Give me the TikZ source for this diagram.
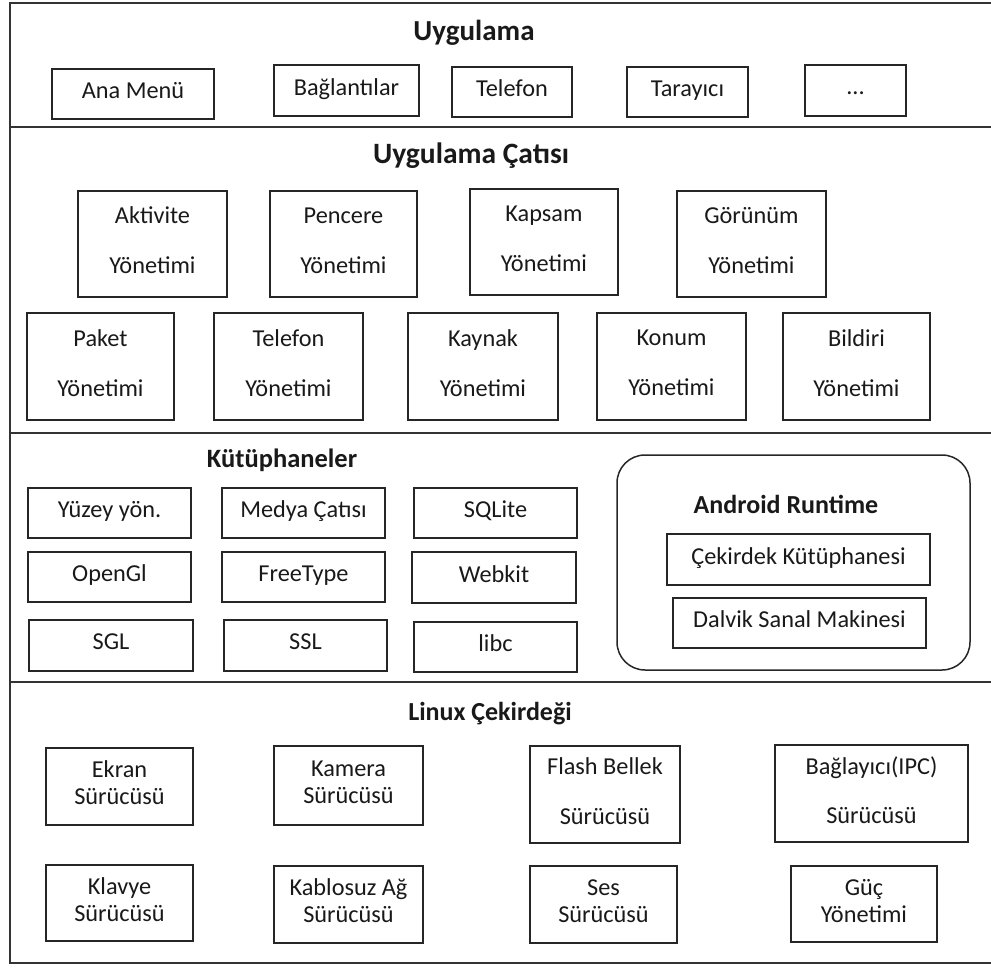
\documentclass[tikz,border=0pt]{standalone}
\usepackage{fontspec}
\setmainfont{Carlito}
\newcommand{\sst}{\rule[-7pt]{0pt}{22pt}}
\newcommand{\bx}[7]{\node[box, minimum width={(#4)-(#2)}, minimum height={(#5)-(#3)}, font=\fontsize{24.3}{#6}\selectfont] (#1) at ({((#2)+(#4))/2},{((#3)+(#5))/2}) {\sst#7\sst};}
\begin{document}
\begin{tikzpicture}[x=1pt,y=-1pt,
  box/.style={draw=black!85, line width=1.5pt, inner sep=0pt, align=center, text=black!90},
  ttl/.style={anchor=base, inner sep=0pt, text=black!90},
  sep/.style={draw=black!80, line width=1.6pt}]
\useasboundingbox (0,0) rectangle (991,967);
% frame and layer separators
\draw[sep] (991,3) -- (10,3) -- (10,963) -- (991,963);
\draw[sep] (10,127) -- (991,127);
\draw[sep] (10,433) -- (991,433);
\draw[sep] (10,682) -- (991,682);
% titles
\node[ttl, font=\bfseries\fontsize{29}{32}\selectfont] (t1) at (474,40) {Uygulama};
\node[ttl, font=\bfseries\fontsize{29.5}{32}\selectfont] (t2) at (471,163) {Uygulama Çatısı};
\node[ttl, font=\bfseries\fontsize{26.5}{30}\selectfont] (t3) at (282,467) {Kütüphaneler};
\node[ttl, font=\bfseries\fontsize{26}{30}\selectfont] (t5) at (490,720) {Linux Çekirdeği};
% Uygulama
\bx{anamenu}{52}{69}{214}{119}{28}{Ana Menü}
\bx{baglanti}{274}{65}{419}{116}{28}{Bağlantılar}
\bx{telefon}{452}{67}{572}{117}{28}{Telefon}
\bx{tarayici}{627}{67}{748}{117}{28}{Tarayıcı}
\bx{dots}{805}{65}{906}{116}{28}{...}
% Uygulama Catisi
\bx{aktivite}{78}{191}{227}{297}{50}{Aktivite\\Yönetimi}
\bx{pencere}{270}{191}{417}{297}{50}{Pencere\\Yönetimi}
\bx{kapsam}{470}{189}{618}{295}{50}{Kapsam\\Yönetimi}
\bx{gorunum}{677}{191}{826}{297}{50}{Görünüm\\Yönetimi}
\bx{paket}{27}{313}{174}{420}{50}{Paket\\Yönetimi}
\bx{telyon}{214}{313}{363}{420}{50}{Telefon\\Yönetimi}
\bx{kaynak}{408}{313}{558}{420}{50}{Kaynak\\Yönetimi}
\bx{konum}{597}{313}{746}{420}{50}{Konum\\Yönetimi}
\bx{bildiri}{783}{313}{930}{420}{50}{Bildiri\\Yönetimi}
% Kutuphaneler
\bx{yuzey}{28}{488}{191}{538}{28}{Yüzey yön.}
\bx{medya}{222}{488}{385}{538}{28}{Medya Çatısı}
\bx{sqlite}{414}{488}{577}{538}{28}{SQLite}
\bx{opengl}{28}{552}{191}{602}{28}{OpenGl}
\bx{freetype}{222}{552}{385}{602}{28}{FreeType}
\bx{webkit}{412}{552}{576}{603}{28}{Webkit}
\bx{sgl}{29}{620}{193}{671}{28}{SGL}
\bx{ssl}{224}{620}{387}{671}{28}{SSL}
\bx{libc}{414}{622}{577}{672}{28}{libc}
% Android Runtime
\node[box, rounded corners=28pt, minimum width=353, minimum height=215] (art) at (793.5,562.5) {};
\node[ttl, font=\bfseries\fontsize{26}{30}\selectfont] (t4) at (786,513) {Android Runtime};
\bx{cekirdek}{667}{534}{930}{585}{28}{Çekirdek Kütüphanesi}
\bx{dalvik}{673}{598}{926}{648}{28}{Dalvik Sanal Makinesi}
% Linux Cekirdegi
\bx{ekran}{46}{748}{193}{825}{27}{Ekran\\Sürücüsü}
\bx{kamera}{274}{746}{423}{825}{27}{Kamera\\Sürücüsü}
\bx{flash}{530}{746}{680}{843}{50}{Flash Bellek\\Sürücüsü}
\bx{baglayici}{775}{745}{968}{842}{49}{Bağlayıcı(IPC)\\Sürücüsü}
\bx{klavye}{46}{865}{193}{941}{27}{Klavye\\Sürücüsü}
\bx{kablosuz}{274}{866}{423}{943}{27}{Kablosuz Ağ\\Sürücüsü}
\bx{ses}{530}{866}{677}{943}{27}{Ses\\Sürücüsü}
\bx{guc}{791}{866}{937}{942}{27}{Güç\\Yönetimi}
\end{tikzpicture}
\end{document}
